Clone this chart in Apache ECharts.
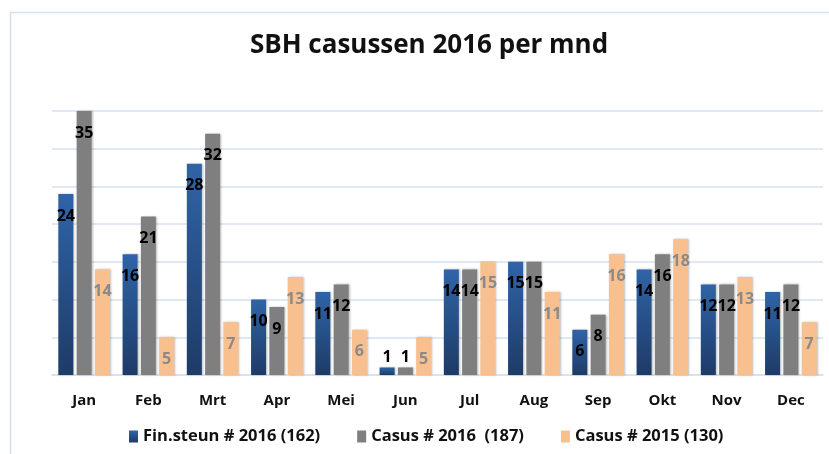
<!DOCTYPE html>
<html lang="en">
<head>
    <meta charset="UTF-8">
    <title>SBH casussen 2016 per mnd</title>
    <style>
        html, body { margin: 0; padding: 0; background: #fff; }
    </style>
</head>
<body>
<div class="main" style="width: 829px;height: 454px;"></div>
<script src="https://cdn.jsdelivr.net/npm/echarts@6/dist/echarts.min.js"></script>
<script>
    var months = ["Jan", "Feb", "Mrt", "Apr", "Mei", "Jun", "Jul", "Aug", "Sep", "Okt", "Nov", "Dec"];
    var finSteun2016 = [24, 16, 28, 10, 11, 1, 14, 15, 6, 14, 12, 11];
    var casus2016 = [35, 21, 32, 9, 12, 1, 14, 15, 8, 16, 12, 12];
    var casus2015 = [14, 5, 7, 13, 6, 5, 15, 11, 16, 18, 13, 7];
    var seriesNames = ["Fin.steun # 2016 (162)", "Casus # 2016  (187)", "Casus # 2015 (130)"];

    var FONT = "'Open Sans', 'Noto Sans', sans-serif";
    var main = document.querySelector(".main");
    var mainEcharts = echarts.init(main);

    // kleine staafjes: label boven de staaf i.p.v. erin
    function toData(values) {
        return values.map(function (v) {
            if (v <= 2) {
                return {value: v, label: {position: 'top', distance: 2}};
            }
            return v;
        });
    }

    function barSeries(name, values, color, labelColor) {
        return {
            name: name,
            type: 'bar',
            barWidth: 15,
            barGap: '22%',
            data: toData(values),
            itemStyle: {
                color: color,
                shadowColor: 'rgba(0,0,0,0.25)',
                shadowBlur: 2,
                shadowOffsetX: 1,
                shadowOffsetY: 0
            },
            label: {
                show: true,
                position: 'insideTop',
                distance: 14,
                color: labelColor,
                fontFamily: FONT,
                fontWeight: 'bold',
                fontSize: 16
            }
        };
    }

    var blue = new echarts.graphic.LinearGradient(0, 0, 0, 1, [
        {offset: 0, color: '#2f64a7'},
        {offset: 1, color: '#1e3b67'}
    ]);

    var option = {
        animation: false,
        title: {
            text: 'SBH casussen 2016 per mnd',
            left: 424,
            textAlign: 'center',
            top: 28,
            textStyle: {
                fontFamily: FONT,
                fontWeight: 'bold',
                fontSize: 26,
                color: '#111'
            }
        },
        graphic: [{
            type: 'rect',
            left: 8,
            top: 10,
            shape: {width: 840, height: 460},
            style: {fill: 'none', stroke: '#d5e1f0', lineWidth: 1.5}
        }],
        legend: {
            bottom: 4,
            left: 124,
            itemWidth: 9,
            itemHeight: 12,
            itemGap: 37,
            icon: 'rect',
            textStyle: {
                fontFamily: FONT,
                fontWeight: 'bold',
                fontSize: 16.5,
                color: '#111'
            },
            data: seriesNames
        },
        grid: {
            left: 52,
            right: 6,
            top: 111,
            bottom: 79
        },
        xAxis: {
            type: 'category',
            data: months,
            axisTick: {show: false},
            axisLine: {lineStyle: {color: '#d5e1f0', width: 1.5}},
            axisLabel: {
                margin: 18,
                fontFamily: FONT,
                fontWeight: 'bold',
                fontSize: 15,
                color: '#111'
            }
        },
        yAxis: {
            type: 'value',
            min: 0,
            max: 35,
            interval: 5,
            axisLabel: {show: false},
            axisLine: {show: false},
            axisTick: {show: false},
            splitLine: {lineStyle: {color: '#d5e1f0', width: 1.5}}
        },
        series: [
            barSeries(seriesNames[0], finSteun2016, blue, '#000'),
            barSeries(seriesNames[1], casus2016, '#7f7f7f', '#000'),
            barSeries(seriesNames[2], casus2015, '#f9c08f', '#8a8a8a')
        ]
    };

    mainEcharts.setOption(option);
</script>
</body>
</html>
